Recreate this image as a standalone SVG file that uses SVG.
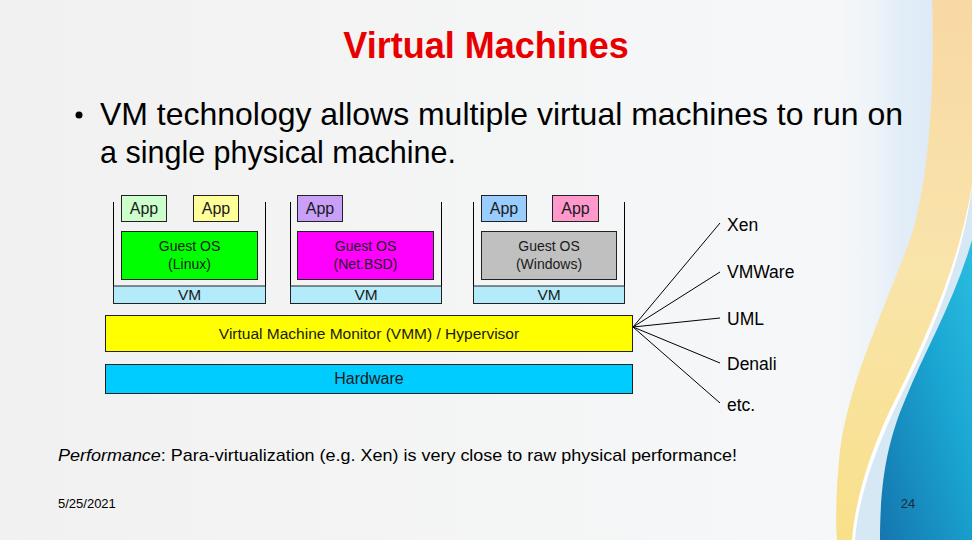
<svg xmlns="http://www.w3.org/2000/svg" width="972" height="540" viewBox="0 0 972 540">
<defs>
<linearGradient id="bg" x1="0" y1="0" x2="1" y2="0">
<stop offset="0" stop-color="#f1f1f1"/><stop offset="0.8" stop-color="#f6f7f8"/><stop offset="1" stop-color="#f3f6f9"/>
</linearGradient>
<linearGradient id="lb" x1="0" y1="0" x2="1" y2="0">
<stop offset="0" stop-color="#f4f7fa" stop-opacity="0"/><stop offset="0.5" stop-color="#e2edf7"/><stop offset="1" stop-color="#d8e8f5"/>
</linearGradient>
<linearGradient id="yel" x1="0" y1="0" x2="0" y2="1">
<stop offset="0" stop-color="#f8d8a4"/><stop offset="0.5" stop-color="#f9e4aa"/><stop offset="1" stop-color="#f8e08a"/>
</linearGradient>
<linearGradient id="db" x1="0" y1="1" x2="1" y2="0">
<stop offset="0" stop-color="#1576ae"/><stop offset="0.6" stop-color="#1aa6d2"/><stop offset="1" stop-color="#2bbde0"/>
</linearGradient>
<style>
.t{font-family:"Liberation Sans",Arial,sans-serif;fill:#000}
.d{font-family:"Liberation Sans",Arial,sans-serif;fill:#1a1a1a;text-anchor:middle}
.box{stroke:#222;stroke-width:1}
.ln{stroke:#000;stroke-width:1;fill:none}
</style>
</defs>
<rect width="972" height="540" fill="url(#bg)"/>
<g id="decor">
<path d="M845,0 C840,120 836,300 830,540 L972,540 L972,0 Z" fill="url(#lb)"/>
<path d="M932,0 C935,80 930,180 910,240 C880,320 850,380 840,450 C835,500 836,530 837,540 L972,540 L972,0 Z" fill="url(#yel)"/>
<path d="M972,185 C960,260 930,330 895,400 C870,450 855,500 852,540 L972,540 Z" fill="#ffffff"/>
<path d="M972,188 C962,262 933,332 898,402 C874,452 858,500 855,540 L972,540 Z" fill="#d5e8f3"/>
<path d="M972,240 C955,300 925,350 905,400 C888,440 880,480 880,540 L972,540 Z" fill="url(#db)"/>
</g>
<text x="486" y="58" class="t" text-anchor="middle" font-weight="bold" font-size="36" style="fill:#e80000">Virtual Machines</text>
<g id="bullet">
<circle cx="79" cy="115" r="3.5" fill="#000"/>
<text x="100" y="125" class="t" font-size="30.5" textLength="803" lengthAdjust="spacingAndGlyphs">VM technology allows multiple virtual machines to run on</text>
<text x="100" y="163" class="t" font-size="30.5" textLength="356" lengthAdjust="spacingAndGlyphs">a single physical machine.</text>
</g>
<g id="vm1">
<path class="ln" d="M113.5,202 V286 M265.5,202 V286"/>
<rect class="box" x="121.5" y="195.5" width="45" height="26" fill="#ccffcc"/>
<text class="d" x="144" y="214" font-size="16">App</text>
<rect class="box" x="193.5" y="195.5" width="45" height="26" fill="#ffff99"/>
<text class="d" x="216" y="214" font-size="16">App</text>
<rect class="box" x="121.5" y="231.5" width="136" height="48" fill="#00ff00"/>
<text class="d" x="189.5" y="251" font-size="14">Guest OS</text>
<text class="d" x="189.5" y="269" font-size="14">(Linux)</text>
<rect class="box" x="113.5" y="286" width="152" height="17.5" fill="#b3ebfa"/>
<text class="d" x="189.5" y="300" font-size="15.5">VM</text>
</g>
<g id="vm2">
<path class="ln" d="M290.5,202 V286 M441.5,202 V286"/>
<rect class="box" x="297.5" y="195.5" width="45" height="26" fill="#c8a0f8"/>
<text class="d" x="320" y="214" font-size="16">App</text>
<rect class="box" x="297.5" y="231.5" width="136" height="48" fill="#ff00ff"/>
<text class="d" x="365.5" y="251" font-size="14">Guest OS</text>
<text class="d" x="365.5" y="269" font-size="14">(Net.BSD)</text>
<rect class="box" x="290.5" y="286" width="151" height="17.5" fill="#b3ebfa"/>
<text class="d" x="366" y="300" font-size="15.5">VM</text>
</g>
<g id="vm3">
<path class="ln" d="M473.5,202 V286 M624.5,202 V303"/>
<rect class="box" x="481.5" y="195.5" width="45" height="26" fill="#99ccff"/>
<text class="d" x="504" y="214" font-size="16">App</text>
<rect class="box" x="552.5" y="195.5" width="46" height="26" fill="#ff99cc"/>
<text class="d" x="575.5" y="214" font-size="16">App</text>
<rect class="box" x="481.5" y="231.5" width="135" height="48" fill="#c0c0c0"/>
<text class="d" x="549" y="251" font-size="14">Guest OS</text>
<text class="d" x="549" y="269" font-size="14">(Windows)</text>
<rect class="box" x="473.5" y="286" width="151" height="17.5" fill="#b3ebfa"/>
<text class="d" x="549" y="300" font-size="15.5">VM</text>
</g>
<g id="vmm">
<rect class="box" x="105.5" y="315.5" width="527" height="36" fill="#ffff00"/>
<text class="d" x="369" y="339" font-size="15.5">Virtual Machine Monitor (VMM) / Hypervisor</text>
</g>
<g id="hardware">
<rect class="box" x="105.5" y="364.5" width="527" height="29" fill="#00ccff"/>
<text class="d" x="369" y="384" font-size="16">Hardware</text>
</g>
<g id="connectors">
<path class="ln" stroke-width="0.8" d="M633,327 L720,223 M633,327 L720,272 M633,327 L720,318 M633,327 L720,363 M633,327 L720,403"/>
</g>
<g id="labels" class="t" font-size="17.5">
<text x="727" y="231">Xen</text>
<text x="727" y="278">VMWare</text>
<text x="727" y="325">UML</text>
<text x="727" y="370">Denali</text>
<text x="727" y="411">etc.</text>
</g>
<text x="58" y="461" class="t" font-size="17" textLength="679" lengthAdjust="spacingAndGlyphs"><tspan font-style="italic">Performance</tspan>: Para-virtualization (e.g. Xen) is very close to raw physical performance!</text>
<text x="58" y="508" class="t" font-size="13" fill="#222">5/25/2021</text>
<text x="908" y="508" class="t" font-size="13" text-anchor="middle" style="fill:#1a2a3a">24</text>
</svg>
